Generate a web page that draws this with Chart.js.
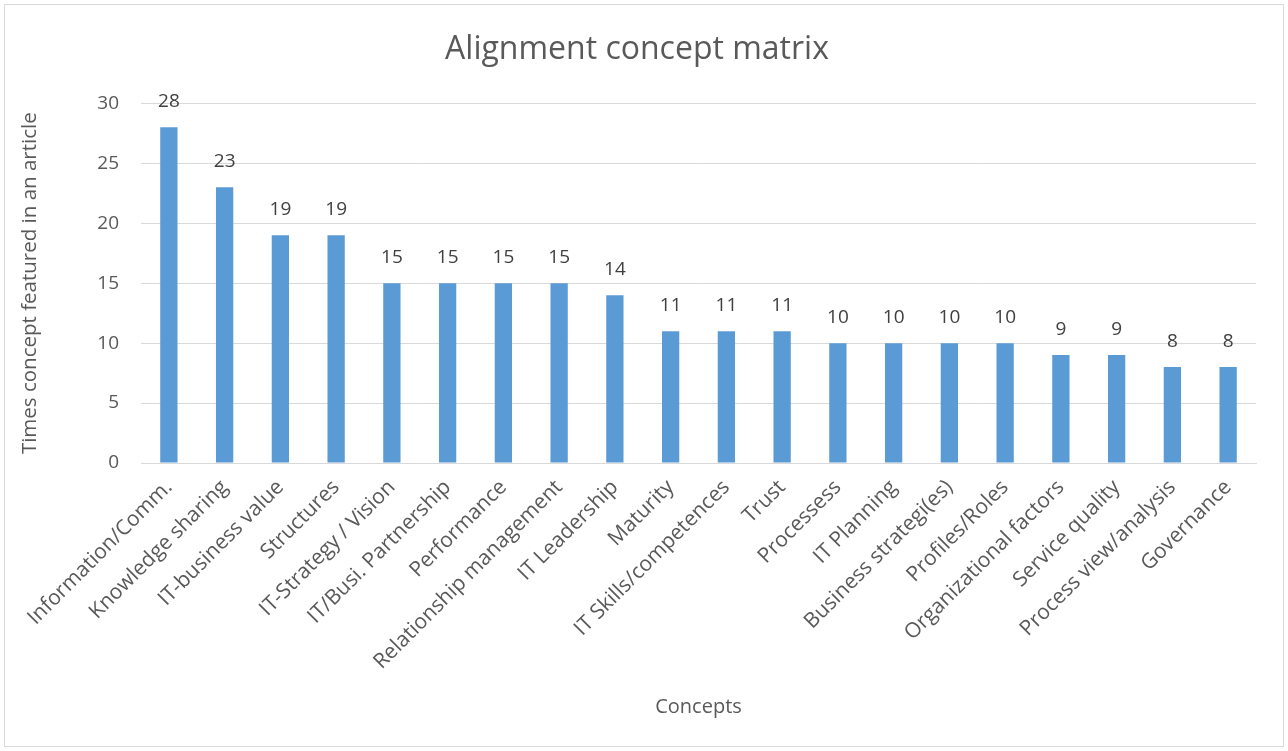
<!DOCTYPE html>
<html>
<head>
<meta charset="utf-8">
<script src="https://cdn.jsdelivr.net/npm/chart.js@4/dist/chart.umd.min.js"></script>
<style>
  html, body { margin: 0; padding: 0; background: #fff; }
  #wrap { width: 1288px; height: 751px; position: relative; }
</style>
</head>
<body>
<div id="wrap"><canvas id="conceptChart"></canvas></div>
<script>
// Alignment concept matrix - bar chart

const concepts = [
  'Information/Comm.', 'Knowledge sharing', 'IT-business value', 'Structures',
  'IT-Strategy / Vision', 'IT/Busi. Partnership', 'Performance', 'Relationship management',
  'IT Leadership', 'Maturity', 'IT Skills/competences', 'Trust', 'Processess',
  'IT Planning', 'Business strategi(es)', 'Profiles/Roles', 'Organizational factors',
  'Service quality', 'Process view/analysis', 'Governance',
];
const timesFeatured = [28, 23, 19, 19, 15, 15, 15, 15, 14, 11, 11, 11, 10, 10, 10, 10, 9, 9, 8, 8];
const yTicks = [0, 5, 10, 15, 20, 25, 30];

const FONT = "'Open Sans', 'Noto Sans', sans-serif";

// draws value labels above each bar
const barValueLabels = {
  id: 'barValueLabels',
  afterDatasetsDraw(chart) {
    const { ctx } = chart;
    const meta = chart.getDatasetMeta(0);
    ctx.save();
    ctx.font = `19px ${FONT}`;
    ctx.fillStyle = '#404040';
    ctx.textAlign = 'center';
    ctx.textBaseline = 'middle';
    meta.data.forEach((bar, i) => {
      ctx.fillText(String(timesFeatured[i]), bar.x, bar.y - 26);
    });
    ctx.restore();
  },
};

// thin frame round the whole chart
const chartFrame = {
  id: 'chartFrame',
  beforeDraw(chart) {
    const { ctx } = chart;
    ctx.save();
    ctx.strokeStyle = '#d9d9d9';
    ctx.lineWidth = 1;
    ctx.strokeRect(4.5, 4.5, chart.width - 9, chart.height - 9);
    ctx.restore();
  },
};

const ctx = document.getElementById('conceptChart');

new Chart(ctx, {
  type: 'bar',
  data: {
    labels: concepts,
    datasets: [
      {
        label: 'Times featured',
        data: timesFeatured,
        backgroundColor: '#5b9bd5',
        borderWidth: 0,
        categoryPercentage: 1,
        barPercentage: 0.31,
      },
    ],
  },
  options: {
    responsive: true,
    maintainAspectRatio: false,
    animation: false,
    layout: { padding: { top: 20, left: 18, right: 32, bottom: 30 } },
    plugins: {
      legend: { display: false },
      tooltip: { enabled: false },
      title: {
        display: true,
        text: 'Alignment concept matrix',
        color: '#595959',
        font: { family: FONT, size: 32, weight: 'normal' },
        padding: { top: 11, bottom: 34 },
      },
    },
    scales: {
      x: {
        grid: { display: false, drawTicks: false },
        border: { color: '#d9d9d9', width: 1 },
        ticks: {
          color: '#595959',
          font: { family: FONT, size: 21 },
          minRotation: 45,
          maxRotation: 45,
          autoSkip: false,
          padding: 12,
        },
        title: {
          display: true,
          text: 'Concepts',
          color: '#595959',
          font: { family: FONT, size: 20 },
          padding: { top: 0, bottom: 2 },
        },
        afterFit(scale) { scale.height = 258; },
      },
      y: {
        min: 0,
        max: 30,
        afterBuildTicks(scale) { scale.ticks = yTicks.map((v) => ({ value: v })); },
        grid: { color: '#d9d9d9', drawTicks: false },
        border: { display: false },
        ticks: {
          color: '#595959',
          font: { family: FONT, size: 19 },
          padding: 22,
        },
        title: {
          display: true,
          text: 'Times concept featured in an article',
          color: '#595959',
          font: { family: FONT, size: 20.5 },
          padding: { top: 0, bottom: 0 },
        },
        afterFit(scale) { scale.width = 123; },
      },
    },
  },
  plugins: [chartFrame, barValueLabels],
});
</script>
</body>
</html>
